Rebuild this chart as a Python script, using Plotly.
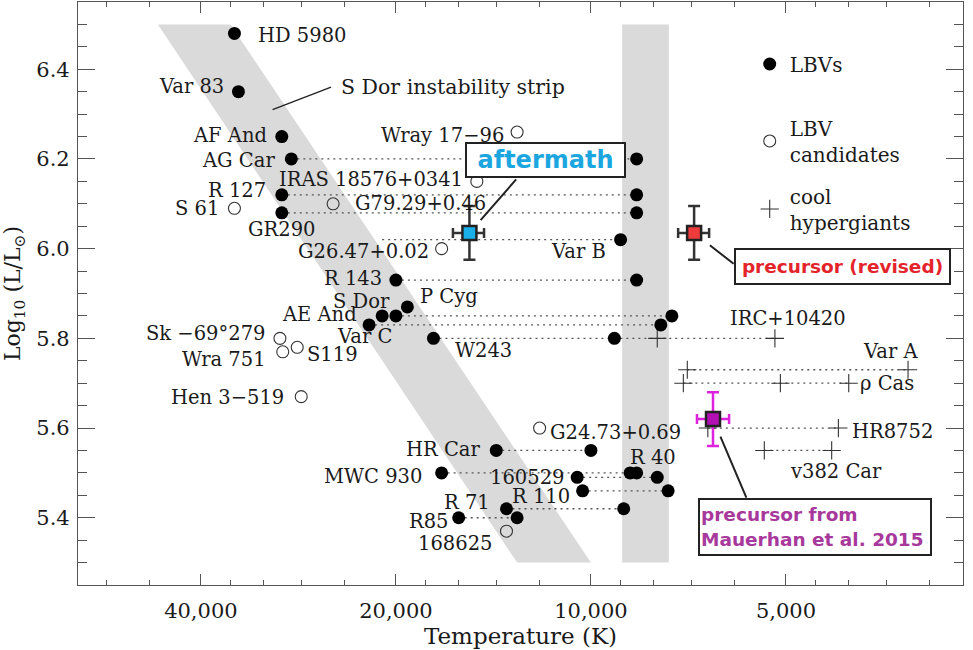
import numpy as np
import plotly.graph_objects as go

# ---------------- data ----------------
# LBVs (filled circles); hot and cool states, joined by dotted lines
lbv_names = ["HD 5980", "Var 83", "AF And", "AG Car", "R 127", "GR290", "Var B", "R 143",
             "P Cyg", "S Dor", "AE And", "Var C", "W243", "HR Car", "MWC 930", "R 40",
             "160529", "R 110", "R 71", "R85"]
lbv_T_hot = [35500, 35000, 30000, 29000, 30000, 30000, 21000, 20000,
             19200, 20000, 21000, 22000, 17500, 14000, 17000, 8500,
             10500, 10300, 13500, 16000]
lbv_T_cool = [None, None, None, 8500, 8500, 8500, 9000, 8500,
              None, 7500, None, 7800, 9200, 10000, 8700, None,
              7900, 7600, 8900, 13000]
lbv_L = [6.48, 6.35, 6.25, 6.20, 6.12, 6.08, 6.02, 5.93,
         5.87, 5.85, 5.85, 5.83, 5.80, 5.55, 5.50, 5.50,
         5.49, 5.46, 5.42, 5.40]
lbv_hot_not_plotted = ["Var B"]

# LBV candidates (open circles)
cand_names = ["Wray 17−96", "IRAS 18576+0341", "G79.29+0.46", "S 61", "G26.47+0.02",
              "Sk −69°279", "Wra 751", "S119", "Hen 3−519", "G24.73+0.69", "168625"]
cand_T = [13000, 15000, 25000, 35500, 17000, 30200, 29900, 28400, 28000, 12000, 13500]
cand_L = [6.26, 6.15, 6.10, 6.09, 6.00, 5.80, 5.77, 5.78, 5.67, 5.60, 5.37]

# cool hypergiants (crosses)
hg_names = ["IRC+10420", "Var A", "ρ Cas", "HR8752", "v382 Car"]
hg_T = [[7900, 5200], [7100, 3240], [7200, 5100, 4000], [6600, 4150], [5400, 4250]]
hg_L = [5.80, 5.73, 5.70, 5.60, 5.55]
links = [("W243", "IRC+10420")]  # dotted continuation between rows

# SN progenitor / aftermath points
sn_labels = ["aftermath", "precursor (revised)", "precursor from<br>Mauerhan et al. 2015"]
sn_T = [15400, 6930, 6480]
sn_T_err_plus = [930, 405, 380]
sn_T_err_minus = [780, 360, 360]
sn_L = [6.035, 6.035, 5.62]
sn_L_err = [0.06, 0.06, 0.06]

# S Dor instability strip (parallelogram) and the cool band
strip_T = [46600, 36000, 10000, 13000]
strip_L = [6.50, 6.50, 5.30, 5.30]
band_T = [8950, 7580]
band_L = [5.30, 6.50]
strip_label = "S Dor instability strip"
strip_label_T = 31000
strip_label_L = 6.31

# axis ticks
x_major = [40000, 20000, 10000, 5000]
x_major_text = ["40,000", "20,000", "10,000", "5,000"]
x_minor = [56000, 48000, 36000, 32000, 28000, 24000, 18000, 16000, 14000, 12000,
           9000, 8000, 7000, 6000, 4500, 4000, 3500, 3000]
x_range_T = [61900, 2665]
y_range = [5.25, 6.55]

# ---------------- styles ----------------
SERIF = "DejaVu Serif"
SANS = "DejaVu Sans"
LAB = dict(family=SERIF, size=19.5, color="#1a1a1a")
GRAY = "#dadada"
INK = "#222"

# label placement (which point, xanchor, xshift px, yshift px)
lbv_lab = {
    "HD 5980": ("hot", "left", 22, -2), "Var 83": ("hot", "right", -12, 5),
    "AF And": ("hot", "right", -13, 1), "AG Car": ("hot", "right", -14, -2),
    "R 127": ("hot", "right", -14, 4), "GR290": ("hot", "center", 0, -17),
    "Var B": ("cool", "right", -13, -12), "R 143": ("hot", "right", -12, 2),
    "P Cyg": ("hot", "left", 11, 10), "S Dor": ("hot", "right", -4, 14),
    "AE And": ("hot", "right", -23, 1), "Var C": ("hot", "center", -5, -12),
    "W243": ("hot", "left", 20, -12), "HR Car": ("hot", "right", -14, 1),
    "MWC 930": ("hot", "right", -18, -4), "R 40": ("hot", "left", -9, 15),
    "160529": ("hot", "right", -11, 0), "R 110": ("hot", "right", -11, -6),
    "R 71": ("hot", "right", -14, 6), "R85": ("hot", "right", -8, -4),
}
cand_lab = {
    "Wray 17−96": ("right", -11, -3), "IRAS 18576+0341": ("right", -12, 2),
    "G79.29+0.46": ("left", 20, 0), "S 61": ("right", -13, 0),
    "G26.47+0.02": ("right", -11, -3), "Sk −69°279": ("right", -12, 5),
    "Wra 751": ("right", -15, -8), "S119": ("left", 8, -7),
    "Hen 3−519": ("right", -15, -1), "G24.73+0.69": ("left", 8, -4),
    "168625": ("right", -12, -12),
}
hg_lab = {
    "IRC+10420": ("center", 13, 20), "Var A": ("right", 12, 18),
    "ρ Cas": ("left", 9, 0), "HR8752": ("left", 12, -3), "v382 Car": ("center", 4, -21),
}
sn_style = [
    dict(fill="#19b0ea", bar="#333", txt="#1ba6e0", tsize=24, box=(155, 30), off=(76, 73),
         conn=(48, -55), stand=17, align="center"),
    dict(fill="#ee3b3b", bar="#333", txt="#e3242b", tsize=18.5, box=(211, 31), off=(148, -34),
         conn=(41, 32), stand=20, align="center"),
    dict(fill="#b30fb3", bar="#dd22dd", txt="#a8399c", tsize=18.5, box=(228, 52), off=(102, -108),
         conn=(34, 80), stand=19, align="left"),
]

fig = go.Figure()

# gray strips
fig.add_trace(go.Scatter(x=strip_T + [strip_T[0]], y=strip_L + [strip_L[0]], fill="toself",
                         fillcolor=GRAY, line=dict(width=0), mode="lines",
                         hoverinfo="skip", showlegend=False))
fig.add_trace(go.Scatter(x=[band_T[0], band_T[1], band_T[1], band_T[0], band_T[0]],
                         y=[band_L[0], band_L[0], band_L[1], band_L[1], band_L[0]],
                         fill="toself", fillcolor=GRAY, line=dict(width=0), mode="lines",
                         hoverinfo="skip", showlegend=False))

# dotted connecting lines
lx, ly = [], []
for th, tc, L in zip(lbv_T_hot, lbv_T_cool, lbv_L):
    if tc is not None:
        lx += [th, tc, None]
        ly += [L, L, None]
for ts, L in zip(hg_T, hg_L):
    lx += [ts[0], ts[-1], None]
    ly += [L, L, None]
for a, b in links:
    i = lbv_names.index(a)
    j = hg_names.index(b)
    lx += [lbv_T_cool[i], hg_T[j][0], None]
    ly += [lbv_L[i], hg_L[j], None]
fig.add_trace(go.Scatter(x=lx, y=ly, mode="lines", line=dict(color="#555", width=1.3, dash="2px,4px"),
                         hoverinfo="skip", showlegend=False))

# LBV candidates
fig.add_trace(go.Scatter(x=cand_T, y=cand_L, mode="markers", name="LBV<br>candidates",
                         marker=dict(symbol="circle-open", size=12, color="#333", line=dict(width=1.1)),
                         legend="legend2", text=cand_names, hoverinfo="text"))

# cool hypergiants
hx, hy, ht = [], [], []
for n, ts, L in zip(hg_names, hg_T, hg_L):
    for t in ts:
        hx.append(t); hy.append(L); ht.append(n)
fig.add_trace(go.Scatter(x=hx, y=hy, mode="markers", name="cool<br>hypergiants",
                         marker=dict(symbol="cross-thin", size=13, color="#333", line=dict(width=1.1, color="#333")),
                         legend="legend3", text=ht, hoverinfo="text"))

# LBVs
bx, by, bt = [], [], []
for n, th, tc, L in zip(lbv_names, lbv_T_hot, lbv_T_cool, lbv_L):
    if n not in lbv_hot_not_plotted:
        bx.append(th); by.append(L); bt.append(n)
    if tc is not None:
        bx.append(tc); by.append(L); bt.append(n)
fig.add_trace(go.Scatter(x=bx, y=by, mode="markers", name="LBVs",
                         marker=dict(symbol="circle", size=13, color="black"),
                         legend="legend", text=bt, hoverinfo="text"))

# SN points with error bars
for k in range(3):
    s = sn_style[k]
    fig.add_trace(go.Scatter(
        x=[sn_T[k]], y=[sn_L[k]], mode="markers", showlegend=False,
        marker=dict(symbol="square", size=14, color=s["fill"], line=dict(width=2.5, color=INK)),
        error_x=dict(type="data", symmetric=False, array=[sn_T_err_plus[k]],
                     arrayminus=[sn_T_err_minus[k]], thickness=2.5, width=5, color=s["bar"]),
        error_y=dict(type="data", array=[sn_L_err[k]], thickness=2.5, width=6, color=s["bar"]),
    ))

ann = []
lg = np.log10
# point labels
for n, th, tc, L in zip(lbv_names, lbv_T_hot, lbv_T_cool, lbv_L):
    which, xa, xs, ys = lbv_lab[n]
    t = th if which == "hot" else tc
    ann.append(dict(x=lg(t), y=L, text=n, xanchor=xa, yanchor="middle", xshift=xs, yshift=ys,
                    showarrow=False, font=LAB))
for n, t, L in zip(cand_names, cand_T, cand_L):
    xa, xs, ys = cand_lab[n]
    ann.append(dict(x=lg(t), y=L, text=n, xanchor=xa, yanchor="middle", xshift=xs, yshift=ys,
                    showarrow=False, font=LAB))
for n, ts, L in zip(hg_names, hg_T, hg_L):
    xa, xs, ys = hg_lab[n]
    ann.append(dict(x=lg(ts[-1]), y=L, text=n, xanchor=xa, yanchor="middle", xshift=xs, yshift=ys,
                    showarrow=False, font=LAB))
# S Dor strip label with pointer
ann.append(dict(x=lg(strip_label_T), y=strip_label_L, text="", showarrow=True, arrowhead=0,
                arrowwidth=1.3, arrowcolor=INK, ax=60, ay=-23))
ann.append(dict(x=lg(strip_label_T), y=strip_label_L, text=strip_label, showarrow=False,
                xanchor="left", yanchor="middle", xshift=66, yshift=23,
                font=dict(family=SERIF, size=20.5, color="#1a1a1a")))
# SN callouts
for k in range(3):
    s = sn_style[k]
    ann.append(dict(x=lg(sn_T[k]), y=sn_L[k], text="", showarrow=True, arrowhead=0,
                    arrowwidth=2, arrowcolor=INK, ax=s["conn"][0], ay=s["conn"][1], standoff=s["stand"]))
for k in range(3):
    s = sn_style[k]
    ann.append(dict(x=lg(sn_T[k]), y=sn_L[k], text=sn_labels[k], showarrow=False,
                    xanchor="center", yanchor="middle", xshift=s["off"][0], yshift=s["off"][1],
                    width=s["box"][0], height=s["box"][1], align=s["align"], borderpad=1,
                    bordercolor=INK, borderwidth=2, bgcolor="white",
                    font=dict(family=SANS, size=s["tsize"], color=s["txt"], weight="bold")))

axis_common = dict(showline=True, linecolor="#555", linewidth=1.2, mirror="allticks",
                   ticks="inside", tickcolor="#555", showgrid=False, zeroline=False,
                   tickfont=dict(family=SERIF, size=21, color="#1a1a1a"))

leg_font = dict(family=SERIF, size=20, color="#1a1a1a")
fig.update_layout(
    width=973, height=650, autosize=False,
    margin=dict(l=78, r=10, t=2, b=65),
    plot_bgcolor="white", paper_bgcolor="white",
    annotations=ann,
    xaxis=dict(type="log", range=[lg(x_range_T[0]), lg(x_range_T[1])],
               tickmode="array", tickvals=x_major, ticktext=x_major_text,
               ticklen=11, tickwidth=1.2, ticklabelstandoff=7,
               minor=dict(tickmode="array", tickvals=x_minor, ticklen=5, tickwidth=1.1,
                          tickcolor="#555", ticks="inside", showgrid=False),
               title=dict(text="Temperature (K)", font=dict(family=SERIF, size=23, color="#1a1a1a"), standoff=4),
               **axis_common),
    yaxis=dict(range=y_range, tickmode="linear", tick0=5.4, dtick=0.2, tickformat=".1f",
               ticklen=17, tickwidth=1.2, ticklabelstandoff=3,
               minor=dict(tickmode="linear", tick0=5.25, dtick=0.05, ticklen=9, tickwidth=1.1,
                          tickcolor="#555", ticks="inside", showgrid=False),
               title=dict(text="Log<sub>10</sub> (L/L<sub>⊙</sub>)",
                          font=dict(family=SERIF, size=22, color="#1a1a1a"), standoff=10),
               **axis_common),
    legend=dict(x=0.759, y=0.8937, xanchor="left", yanchor="middle", bgcolor="rgba(0,0,0,0)", font=leg_font),
    legend2=dict(x=0.759, y=0.7616, xanchor="left", yanchor="middle", bgcolor="rgba(0,0,0,0)", font=leg_font),
    legend3=dict(x=0.759, y=0.645, xanchor="left", yanchor="middle", bgcolor="rgba(0,0,0,0)", font=leg_font),
)

fig.write_html("out.html")
